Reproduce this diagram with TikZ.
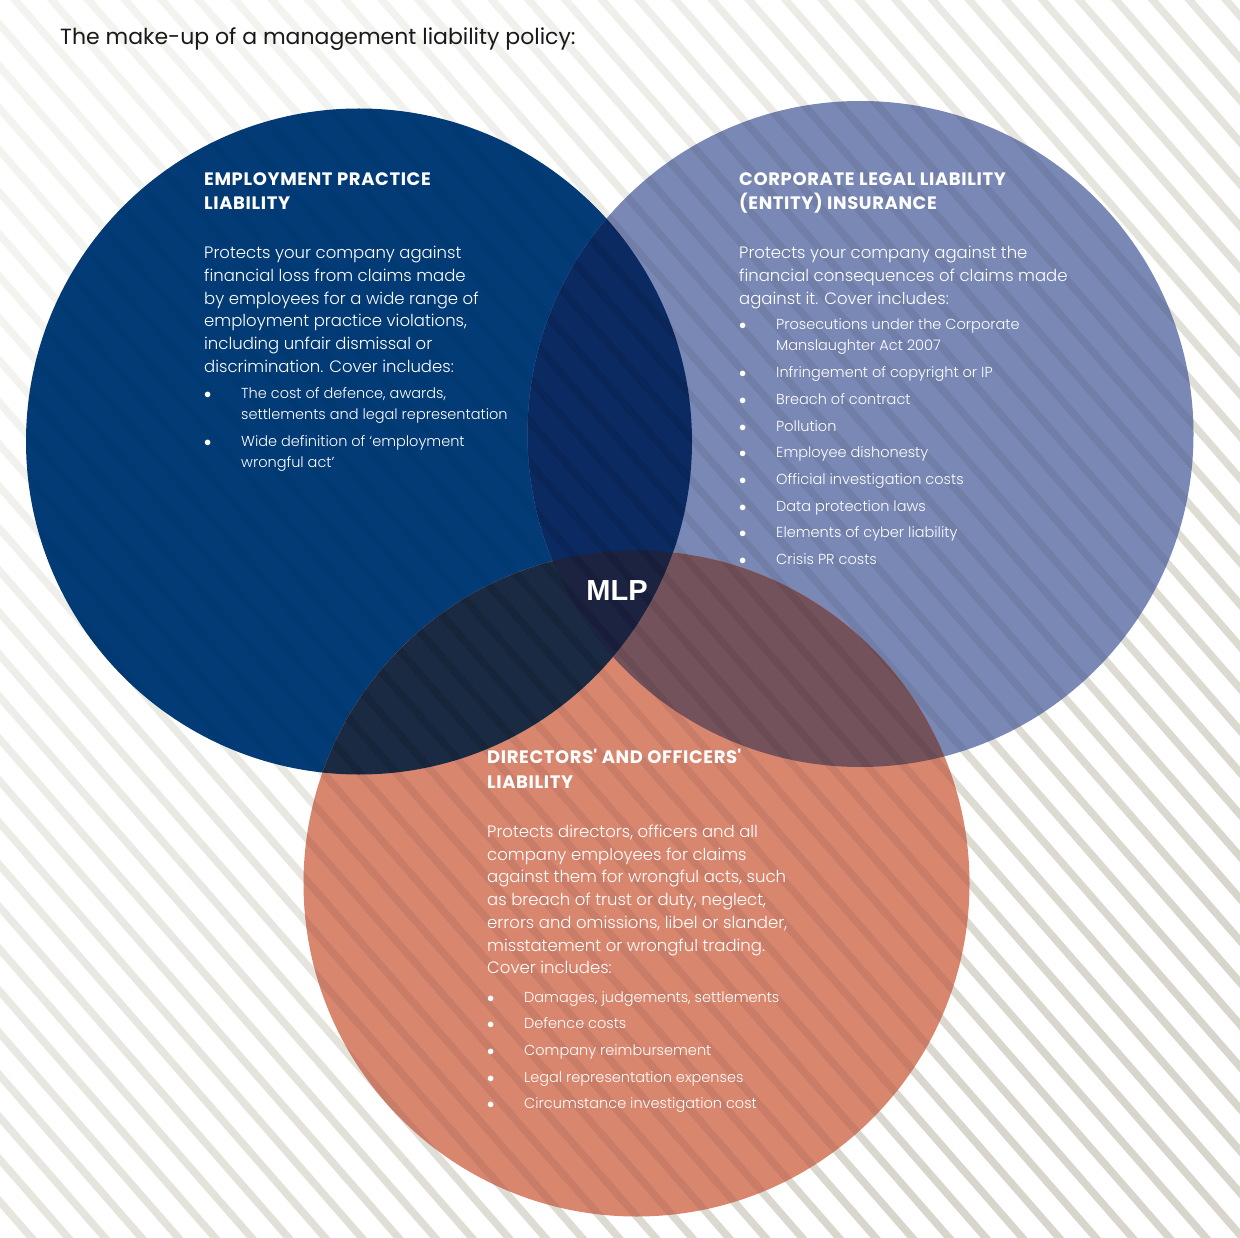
\documentclass[tikz,border=0pt]{standalone}
\usepackage{fontspec}
\setmainfont{Poppins}
\IfFontExistsTF{Poppins Light}{\newfontfamily\lightfont{Poppins Light}}{\newfontfamily\lightfont{Poppins}}
\newfontfamily\mlpfont{Liberation Sans}
\usepackage{array}
\definecolor{eplblue}{HTML}{023B76}
\definecolor{cllblue}{HTML}{7A88B5}
\definecolor{dosalmon}{HTML}{D9866F}
\definecolor{eplcll}{HTML}{0C2A62}
\definecolor{epldo}{HTML}{1A2A42}
\definecolor{clldo}{HTML}{74525C}
\definecolor{mlpcore}{HTML}{1B2340}
\definecolor{stripelight}{HTML}{F3F3F0}
\definecolor{stripemid}{HTML}{E1DFD7}
\definecolor{stripedark}{HTML}{D8D6CC}
\newcommand\stripepath[1]{#1 foreach \k in {-31,...,35}{(\k*36.7+10,0) -- ++(10,0) -- ++(1081,1238) -- ++(-10,0) -- cycle};}
\newcommand\bul{$\bullet$}
\tikzset{
  headtext/.style={anchor=base west, align=left, inner sep=0pt, text=white,
    font=\fontsize{18}{24.5}\selectfont\bfseries\addfontfeatures{LetterSpace=3.5}},
  bodytext/.style={anchor=base west, align=left, inner sep=0pt, text=white,
    font=\lightfont\fontsize{16.5}{22.7}\selectfont},
  listtext/.style={anchor=base west, inner sep=0pt, text=white,
    font=\lightfont\fontsize{14.5}{21}\selectfont},
}
\begin{document}
\begin{tikzpicture}[x=1pt,y=-1pt]
\useasboundingbox (0,0) rectangle (1240,1238);
\fill[white] (0,0) rectangle (1240,1238);
\begin{scope}
\stripepath{\clip}
\shade[top color=stripelight, middle color=stripemid, bottom color=stripedark, shading angle=45]
  (0,0) rectangle (1240,1238);
\end{scope}
\coordinate (epl) at (359,441.5);
\coordinate (cll) at (860.5,434);
\coordinate (do) at (636.5,883.5);
\fill[eplblue] (epl) circle[radius=333];
\fill[cllblue] (cll) circle[radius=333];
\fill[dosalmon] (do) circle[radius=333];
\begin{scope}
\clip (epl) circle[radius=333];
\fill[eplcll] (cll) circle[radius=333];
\fill[epldo] (do) circle[radius=333];
\clip (cll) circle[radius=333];
\fill[mlpcore] (do) circle[radius=333];
\end{scope}
\begin{scope}
\clip (cll) circle[radius=333];
\clip (do) circle[radius=333];
\fill[clldo, even odd rule] (0,0) rectangle (1240,1238) (epl) circle[radius=333];
\end{scope}
\begin{scope}
\clip (cll) circle[radius=333] (do) circle[radius=333];
\stripepath{\fill[black, opacity=0.07]}
\end{scope}
\begin{scope}
\clip (epl) circle[radius=333];
\stripepath{\fill[black, opacity=0.03]}
\end{scope}

\node[anchor=base west, inner sep=0pt, font=\fontsize{22}{22}\selectfont, text=black!90] (title) at (60,44.5)
  {The make-up of a management liability policy:};

\node[headtext] (eplHead) at (204,209.8) {EMPLOYMENT PRACTICE\\LIABILITY};
\node[bodytext] (eplBody) at (204,372.2) {Protects your company against\\financial loss from claims made\\by employees for a wide range of\\employment practice violations,\\including unfair dismissal or\\discrimination. Cover includes:};
\node[listtext] (eplList) at (204,399) {\begin{tabular}[t]{@{}p{37pt}@{}l@{}}
\bul & The cost of defence, awards,\\
 & settlements and legal representation\\[5.7pt]
\bul & Wide definition of ‘employment\\
 & wrongful act’
\end{tabular}};

\node[headtext] (cllHead) at (739,209.8) {CORPORATE LEGAL LIABILITY\\(ENTITY) INSURANCE};
\node[bodytext] (cllBody) at (739,304.1) {Protects your company against the\\financial consequences of claims made\\against it. Cover includes:};
\node[listtext] (cllList) at (739,330) {\begin{tabular}[t]{@{}p{37pt}@{}l@{}}
\bul & Prosecutions under the Corporate\\
 & Manslaughter Act 2007\\[5.7pt]
\bul & Infringement of copyright or IP\\[5.7pt]
\bul & Breach of contract\\[5.7pt]
\bul & Pollution\\[5.7pt]
\bul & Employee dishonesty\\[5.7pt]
\bul & Official investigation costs\\[5.7pt]
\bul & Data protection laws\\[5.7pt]
\bul & Elements of cyber liability\\[5.7pt]
\bul & Crisis PR costs
\end{tabular}};

\node[headtext] (doHead) at (487,788) {DIRECTORS\textquotesingle{} AND OFFICERS\textquotesingle\\LIABILITY};
\node[bodytext] (doBody) at (487,973.7) {Protects directors, officers and all\\company employees for claims\\against them for wrongful acts, such\\as breach of trust or duty, neglect,\\errors and omissions, libel or slander,\\misstatement or wrongful trading.\\Cover includes:};
\node[listtext] (doList) at (487,1002) {\begin{tabular}[t]{@{}p{37pt}@{}l@{}}
\bul & Damages, judgements, settlements\\[5.7pt]
\bul & Defence costs\\[5.7pt]
\bul & Company reimbursement\\[5.7pt]
\bul & Legal representation expenses\\[5.7pt]
\bul & Circumstance investigation cost
\end{tabular}};

\node[inner sep=0pt, text=white, font=\mlpfont\fontsize{29}{29}\selectfont\bfseries] (mlp) at (617,591) {MLP};
\end{tikzpicture}
\end{document}
